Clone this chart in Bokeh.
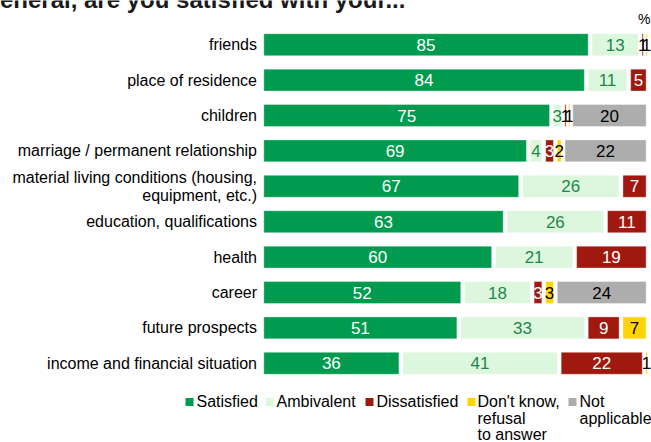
from bokeh.plotting import figure
from bokeh.models import Range1d
from bokeh.core.properties import value
from bokeh.embed import file_html
from bokeh.resources import INLINE

# ---------------- data ----------------
categories = [
    "friends",
    "place of residence",
    "children",
    "marriage / permanent relationship",
    "material living conditions (housing,\nequipment, etc.)",
    "education, qualifications",
    "health",
    "career",
    "future prospects",
    "income and financial situation",
]
satisfied = [85, 84, 75, 69, 67, 63, 60, 52, 51, 36]
ambivalent = [13, 11, 3, 4, 26, 26, 21, 18, 33, 41]
dissatisfied = [1, 5, 1, 3, 7, 11, 19, 3, 9, 22]
dont_know = [1, 0, 1, 2, 0, 0, 0, 3, 7, 1]
not_applicable = [0, 0, 20, 22, 0, 0, 0, 24, 0, 0]
series_names = ["Satisfied", "Ambivalent", "Dissatisfied",
                "Don't know,\nrefusal\nto answer", "Not\napplicable"]
title_text = "In general, are you satisfied with your..."
unit_label = "%"

# ---------------- style ----------------
FONT = "Liberation Sans"
colors = ["#009b4f", "#ddf7df", "#a0190f", "#ffd500", "#adadad"]
label_colors = ["white", "#1d874b", "white", "black", "black"]
W, H = 651, 442
X0, S = 261.8, 3.862          # pixel of value 0, pixels per percent
ROW0, ROW_STEP = 44.2, 35.4   # pixel centre of first row, row spacing


def dx(px):
    return (px - X0) / S


def dy(py):
    return (py - ROW0) / ROW_STEP


p = figure(width=W, height=H, output_backend="svg", toolbar_location=None,
           x_range=Range1d(dx(0), dx(W)), y_range=Range1d(dy(H), dy(0)),
           x_axis_location=None, y_axis_location=None, min_border=0)
p.grid.visible = False
p.outline_line_color = None
p.background_fill_color = "white"
p.border_fill_color = "white"

series = [satisfied, ambivalent, dissatisfied, dont_know, not_applicable]
rows = list(range(len(categories)))
L_IN, R_IN = 1.5 / S, 2.4 / S
cum = [0.0] * len(categories)
for k, vals in enumerate(series):
    ys, lefts, rights, lx, ly, lt, lc = [], [], [], [], [], [], []
    for i, v in enumerate(vals):
        if v <= 0:
            continue
        left = cum[i] + L_IN
        right = cum[i] + v - R_IN
        if right - left < 0.3:
            c = cum[i] + v / 2
            left, right = c - 0.15, c + 0.15
        ys.append(rows[i])
        lefts.append(left)
        rights.append(right)
        lx.append((left + right) / 2)
        ly.append(rows[i])
        lt.append(str(v))
        col = label_colors[k]
        if k == 2 and v < 2:
            col = "black"
        lc.append(col)
        cum[i] += v
    p.hbar(y=ys, left=lefts, right=rights, height=0.62, fill_color=colors[k],
           line_color="white", line_alpha=0.35, line_width=1)
    p.text(x=lx, y=ly, text=lt, text_color=lc, text_align="center",
           text_baseline="middle", text_font=value(FONT), text_font_size="17px")

# category labels
p.text(x=[dx(256.5)] * len(categories), y=rows, text=categories,
       text_align="right", text_baseline="middle", text_font=value(FONT),
       text_font_size="16px", text_color="black", text_line_height=1.06)

# title (top partly cut off, as in the reference)
p.text(x=[dx(-43.2)], y=[dy(-1.5)], text=[title_text], text_align="left",
       text_baseline="alphabetic", text_font=value(FONT), text_font_size="24px",
       text_font_style="bold", text_color="#1a1a1a")

# unit
p.text(x=[dx(650)], y=[dy(18)], text=[unit_label], text_align="right",
       text_baseline="alphabetic", text_font=value(FONT), text_font_size="14px",
       text_color="black")

# legend
sq_x = [189, 269, 369, 471, 572]
tx_x = [196, 276, 376, 477, 579]
p.scatter(x=[dx(v) for v in sq_x], y=[dy(401.5)] * 5, marker="square", size=8,
          fill_color=colors, line_color=None)
lx, ly, lt = [], [], []
for k, name in enumerate(series_names):
    for j, line in enumerate(name.split("\n")):
        lx.append(dx(tx_x[k]))
        ly.append(dy(401 + 16.5 * j))
        lt.append(line)
p.text(x=lx, y=ly, text=lt, text_align="left", text_baseline="alphabetic",
       text_font=value(FONT), text_font_size="16px", text_color="black")

open("out.html", "w").write(file_html(p, INLINE))
